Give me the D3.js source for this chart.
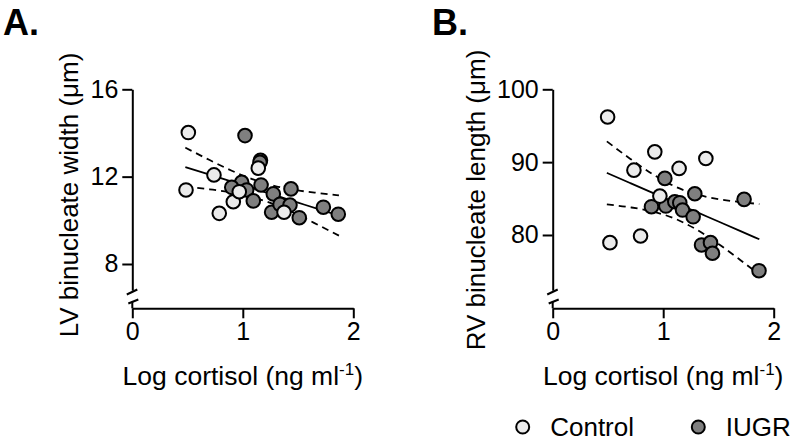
<!DOCTYPE html>
<html>
<head>
<meta charset="utf-8">
<script src="https://cdn.jsdelivr.net/npm/d3@7"></script>
<style>
  body { margin: 0; background: #fff; }
  svg { display: block; }
  text { font-family: "Liberation Sans", Arial, Helvetica, sans-serif; fill: #000; }
</style>
</head>
<body>
<svg id="chart" width="800" height="446"></svg>
<script>
// ---------- DATA ----------
// Panel A: LV binucleate width (µm) vs log cortisol
const controlA_x = [0.507, 0.486, 0.739, 0.787, 0.914, 0.968, 1.140, 1.373];
const controlA_y = [14.02, 11.39, 12.08, 10.32, 10.85, 11.31, 12.39, 10.37];
const iugrA_x = [1.020, 1.160, 1.155, 0.990, 0.900, 1.035, 1.095, 1.165, 1.276, 1.436, 1.261, 1.337, 1.427, 1.511, 1.729, 1.864];
const iugrA_y = [13.88, 12.75, 12.66, 11.74, 11.51, 11.39, 10.89, 11.62, 11.21, 11.44, 10.37, 10.73, 10.70, 10.12, 10.60, 10.28];
// regression line and 95% band
const bandA_x = [0.48, 0.7, 0.9, 1.1, 1.3, 1.5, 1.7, 1.87];
const fitA    = [12.44, 12.09, 11.77, 11.45, 11.13, 10.81, 10.49, 10.22];
const upperA  = [13.33, 12.76, 12.27, 11.86, 11.56, 11.37, 11.24, 11.14];
const lowerA  = [11.55, 11.42, 11.27, 11.04, 10.70, 10.25, 9.74, 9.30];

// Panel B: RV binucleate length (µm) vs log cortisol
const controlB_x = [0.497, 0.518, 0.735, 0.795, 0.924, 0.970, 1.144, 1.386];
const controlB_y = [96.2, 78.95, 88.9, 79.86, 91.41, 85.34, 89.14, 90.5];
const iugrB_x = [1.015, 1.286, 0.894, 1.024, 1.105, 1.150, 1.175, 1.271, 1.732, 1.347, 1.428, 1.446, 1.867];
const iugrB_y = [87.77, 85.66, 83.88, 83.97, 84.56, 84.43, 83.42, 82.50, 84.89, 78.63, 78.95, 77.49, 75.10];
const bandB_x = [0.49, 0.7, 0.9, 1.1, 1.3, 1.5, 1.7, 1.87];
const fitB    = [88.52, 87.14, 85.82, 84.49, 83.17, 81.85, 80.53, 79.41];
const upperB  = [92.85, 90.48, 88.40, 86.70, 85.58, 84.93, 84.52, 84.25];
const lowerB  = [84.19, 83.80, 83.24, 82.28, 80.76, 78.77, 76.54, 74.57];

const xTicks = [0, 1, 2];
const yTicksA = [8, 12, 16];
const yTicksB = [80, 90, 100];
const panelLabels = ["A.", "B."];
const yTitles = ["LV binucleate width (μm)", "RV binucleate length (μm)"];
const legendLabels = ["Control", "IUGR"];

// ---------- DRAW ----------
const svg = d3.select("#chart");
const FONT = 25;
const LIGHT = "#ebebeb", DARK = "#7f7f7f";

function panel(cfg) {
  const g = svg.append("g");
  const x = d3.scaleLinear().domain([0, 2]).range([cfg.x0, cfg.x0 + 221]);
  const y = d3.scaleLinear().domain(cfg.yDomain).range([290.2, 89.3]);

  // y axis
  const ya = g.append("g").attr("transform", `translate(${cfg.x0},0)`)
    .call(d3.axisLeft(y).tickValues(cfg.yTicks).tickSize(10).tickSizeOuter(0).tickPadding(4));
  // x axis
  const xa = g.append("g").attr("transform", `translate(0,308.3)`)
    .call(d3.axisBottom(x).tickValues(xTicks).tickSize(10).tickSizeOuter(0).tickPadding(4).tickFormat(d3.format("d")));
  [ya, xa].forEach(a => {
    a.selectAll("path, line").attr("stroke", "#000").attr("stroke-width", 2);
    a.selectAll("text").attr("font-size", FONT).attr("font-family", '"Liberation Sans", Arial, sans-serif').attr("fill", "#000");
  });
  // axis break
  const bx = cfg.x0;
  g.append("line").attr("x1", bx - 5.5).attr("y1", 294.5).attr("x2", bx + 5).attr("y2", 289.5)
    .attr("stroke", "#000").attr("stroke-width", 2);
  g.append("line").attr("x1", bx - 4).attr("y1", 303.5).attr("x2", bx + 6).attr("y2", 299.5)
    .attr("stroke", "#000").attr("stroke-width", 2);
  g.append("line").attr("x1", bx).attr("y1", 301.5).attr("x2", bx).attr("y2", 308.3)
    .attr("stroke", "#000").attr("stroke-width", 2);

  // lines
  const mk = (ys) => d3.line().x((d, i) => x(cfg.bandX[i])).y(d => y(d)).curve(d3.curveMonotoneX)(ys);
  g.append("path").attr("d", mk(cfg.fit)).attr("fill", "none").attr("stroke", "#000").attr("stroke-width", 1.8);
  g.append("path").attr("d", mk(cfg.upper)).attr("fill", "none").attr("stroke", "#000").attr("stroke-width", 1.8).attr("stroke-dasharray", "7,5");
  g.append("path").attr("d", mk(cfg.lower)).attr("fill", "none").attr("stroke", "#000").attr("stroke-width", 1.8).attr("stroke-dasharray", "7,5");

  // points: IUGR first, then control on top
  g.selectAll(".iugr").data(cfg.ix.map((v, i) => [v, cfg.iy[i]])).join("circle")
    .attr("cx", d => x(d[0])).attr("cy", d => y(d[1])).attr("r", 6.8)
    .attr("fill", DARK).attr("stroke", "#000").attr("stroke-width", 2);
  g.selectAll(".ctrl").data(cfg.cx.map((v, i) => [v, cfg.cy[i]])).join("circle")
    .attr("cx", d => x(d[0])).attr("cy", d => y(d[1])).attr("r", 6.8)
    .attr("fill", LIGHT).attr("stroke", "#000").attr("stroke-width", 2);

  // titles
  g.append("text").attr("x", cfg.labelX).attr("y", 35).attr("font-size", 36).attr("font-weight", "bold")
    .text(cfg.label);
  g.append("text").attr("transform", `translate(${cfg.yTitleX},${cfg.yTitleY}) rotate(-90)`)
    .attr("text-anchor", "middle").attr("font-size", 26).text(cfg.yTitle);
  const xt = g.append("text").attr("x", x(1)).attr("y", 385).attr("text-anchor", "middle").attr("font-size", 26.5);
  xt.append("tspan").text("Log cortisol (ng ml");
  xt.append("tspan").attr("font-size", 17).attr("dy", -10).text("-1");
  xt.append("tspan").attr("dy", 10).text(")");
}

panel({ x0: 132.3, yDomain: [6.8, 16], yTicks: yTicksA, bandX: bandA_x, fit: fitA, upper: upperA, lower: lowerA,
        cx: controlA_x, cy: controlA_y, ix: iugrA_x, iy: iugrA_y, label: panelLabels[0], labelX: 3,
        yTitle: yTitles[0], yTitleX: 78, yTitleY: 195 });
panel({ x0: 552.7, yDomain: [72.42, 100], yTicks: yTicksB, bandX: bandB_x, fit: fitB, upper: upperB, lower: lowerB,
        cx: controlB_x, cy: controlB_y, ix: iugrB_x, iy: iugrB_y, label: panelLabels[1], labelX: 432,
        yTitle: yTitles[1], yTitleX: 485, yTitleY: 200 });

// legend
const leg = svg.append("g");
const legX = [522.7, 698.3];
const legFill = [LIGHT, DARK];
legendLabels.forEach((t, i) => {
  leg.append("circle").attr("cx", legX[i]).attr("cy", 427).attr("r", 6.5)
    .attr("fill", legFill[i]).attr("stroke", "#000").attr("stroke-width", 2);
  leg.append("text").attr("x", legX[i] + 27.5).attr("y", 436).attr("font-size", 26).text(t);
});
</script>
</body>
</html>
